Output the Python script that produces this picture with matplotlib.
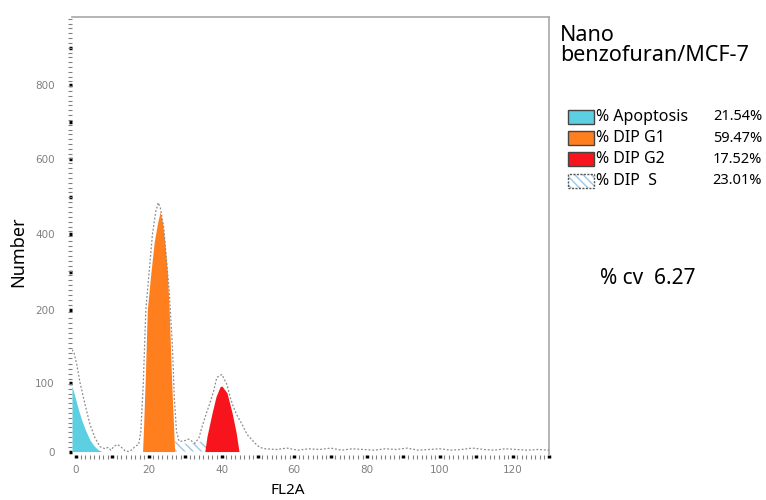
import numpy as np
import matplotlib.pyplot as plt
from matplotlib.patches import Rectangle
from matplotlib.ticker import FixedLocator, FuncFormatter

# ---------------------------------------------------------------------------
# Data (FL2A channel, counts)
# ---------------------------------------------------------------------------
apop_x = [-1.1, -0.3, 0.6, 1.6, 2.7, 3.8, 5.0, 6.0, 7.1]
apop_y = [95, 80, 62, 45, 30, 17, 8, 3, 0]

g1_x = [18.3, 18.6, 19.0, 19.6, 20.6, 21.5, 22.4, 23.1,
        23.8, 24.4, 25.1, 25.6, 26.3, 26.8, 27.1]
g1_y = [0, 40, 100, 200, 300, 380, 430, 460,
        430, 380, 300, 200, 100, 40, 0]

g2_x = [35.4, 36.0, 37.4, 38.5, 39.6, 40.1, 41.5, 42.9, 44.0, 44.8]
g2_y = [0, 22, 56, 80, 94, 95, 85, 56, 28, 0]

s_x = [26.8, 27.5, 29.0, 31.0, 33.0, 35.0, 36.5, 37.5]
s_y = [14, 15, 12, 11, 13, 15, 12, 0]

total_x = [-1.1, -0.5, 0.2, 1.1, 2.4, 3.8, 5.2, 6.6, 8.0, 8.8, 9.6, 10.5,
           11.5, 12.5, 13.5, 14.5, 15.5, 16.3, 17.2, 17.8, 18.5, 19.2,
           20.1, 21.0, 21.9, 22.6, 23.2, 24.1, 24.8, 25.6, 26.5, 27.0,
           27.6, 28.3, 29.5, 31.0, 32.7, 33.8, 34.6, 35.8, 36.8, 37.8,
           38.7, 40.1, 41.5, 42.3, 43.1, 44.3, 45.6, 46.5, 47.3, 48.2,
           49.2, 50.5, 52, 55, 58, 61, 64, 67, 70, 73, 76, 79, 82, 85,
           88, 91, 94, 97, 100, 103, 106, 109, 112, 115, 118, 121, 124,
           127, 130]
total_y = [145, 140, 125, 100, 70, 40, 20, 7, 4, 6, 2, 8,
           10, 6, 1, 0, 3, 8, 10, 28, 100, 200,
           300, 400, 460, 485, 470, 420, 340, 250, 150, 80,
           30, 15, 15, 18, 12, 20, 35, 55, 70, 87,
           107, 111, 97, 80, 67, 52, 40, 30, 23, 18,
           12, 6, 4, 3, 5, 2, 4, 3, 5, 2, 4, 3, 2, 4,
           3, 5, 2, 3, 4, 2, 3, 5, 3, 2, 4, 3, 2,
           3, 2]

legend_names = ["% Apoptosis", "% DIP G1", "% DIP G2", "% DIP  S"]
legend_values = ["21.54%", "59.47%", "17.52%", "23.01%"]
y_labels = [0, 100, 200, 400, 600, 800]
cv_value = 6.27

CYAN = "#5ccfe2"
ORANGE = "#ff7f1e"
RED = "#f7141c"
OUTLINE = "#8c8c8c"
HATCH = "#9cc7e6"

# the instrument's count axis is stretched below 200
YV = [0, 100, 200, 400, 600, 800, 1000]
YP = [0, 69, 142, 217, 292, 366, 440]


def fwd(v):
    v = np.asarray(v, dtype=float)
    return np.where(v < 0, v * 0.69,
                    np.where(v > 1000, 440 + (v - 1000) * 0.37, np.interp(v, YV, YP)))


def inv(p):
    p = np.asarray(p, dtype=float)
    return np.where(p < 0, p / 0.69,
                    np.where(p > 440, 1000 + (p - 440) / 0.37, np.interp(p, YP, YV)))


fig = plt.figure(figsize=(7.66, 5.0), dpi=100)
ax = fig.add_axes([72 / 766, 45 / 500, 477 / 766, 438 / 500])
ax.set_yscale("function", functions=(fwd, inv))

ax.fill_between(apop_x, apop_y, 0, color=CYAN, lw=0, zorder=2)
ax.fill_between(g1_x, g1_y, 0, color=ORANGE, lw=0, zorder=2)
ax.fill_between(g2_x, g2_y, 0, color=RED, lw=0, zorder=2)
ax.fill_between(s_x, s_y, 0, facecolor="white", edgecolor=HATCH,
                hatch="\\\\\\\\", lw=0, zorder=1)
ax.plot(total_x, total_y, color=OUTLINE, lw=0.9, ls=(0, (1.5, 1.5)), zorder=3)

ax.set_xlim(-1.1, 130)
ax.set_ylim(-5, 985)

# ticks: black dots for majors, grey dashes for minors
ax.yaxis.set_major_locator(FixedLocator([0, 100, 200, 300, 400, 500, 600, 700, 800, 900]))
ax.yaxis.set_major_formatter(FuncFormatter(lambda v, p: f"{int(v)}" if int(v) in y_labels else ""))
ax.yaxis.set_minor_locator(FixedLocator(np.concatenate([np.arange(0, 200, 7), np.arange(200, 990, 13)])))
ax.xaxis.set_major_locator(FixedLocator(np.arange(0, 131, 10)))
ax.xaxis.set_major_formatter(FuncFormatter(lambda v, p: f"{int(v)}" if int(v) % 20 == 0 else ""))
ax.xaxis.set_minor_locator(FixedLocator(np.arange(0, 130, 1.25)))

ax.tick_params(which="major", length=2.5, width=2.5, color="black",
               labelsize=7.5, labelcolor="#808080")
ax.tick_params(which="minor", length=3, width=0.8, color="#808080")
ax.tick_params(axis="y", which="major", pad=10)
ax.tick_params(axis="x", which="major", pad=5)

for side in ["left", "bottom"]:
    ax.spines[side].set_visible(False)
for side in ["top", "right"]:
    ax.spines[side].set_color("#a8a8a8")
    ax.spines[side].set_linewidth(1.2)

fig.text(18 / 766, 1 - 252 / 500, "Number", rotation=90, ha="center", va="center",
         fontsize=13, family="Noto Sans")
fig.text(288 / 766, 1 - 490 / 500, "FL2A", ha="center", va="center",
         fontsize=11, family="Noto Sans")

fig.text(560 / 766, 1 - 25 / 500, "Nano\nbenzofuran/MCF-7", ha="left", va="top",
         fontsize=15.5, family="Noto Sans", linespacing=0.92)

# legend box drawn by hand like the instrument software
row_y = [117, 138, 159, 181]
fills = [CYAN, ORANGE, RED, "white"]
for yy, name, val, fc in zip(row_y, legend_names, legend_values, fills):
    y0 = 1 - (yy + 7) / 500
    if fc == "white":
        fig.add_artist(Rectangle((568 / 766, y0), 26 / 766, 14 / 500, facecolor="white",
                                 edgecolor=HATCH, hatch="\\\\\\\\", lw=0))
        fig.add_artist(Rectangle((568 / 766, y0), 26 / 766, 14 / 500, facecolor="none",
                                 edgecolor="#555555", lw=1, ls=(0, (1.5, 1))))
    else:
        fig.add_artist(Rectangle((568 / 766, y0), 26 / 766, 14 / 500, facecolor=fc,
                                 edgecolor="#444444", lw=1))
    fig.text(596 / 766, 1 - yy / 500, name, ha="left", va="center",
             fontsize=11.5, family="Noto Sans")
    fig.text(762 / 766, 1 - yy / 500, val, ha="right", va="center",
             fontsize=10.5, family="Noto Sans")

fig.text(600 / 766, 1 - 278 / 500, f"% cv  {cv_value}", ha="left", va="center",
         fontsize=15, family="Noto Sans")

fig.savefig("out.png", dpi=100)
